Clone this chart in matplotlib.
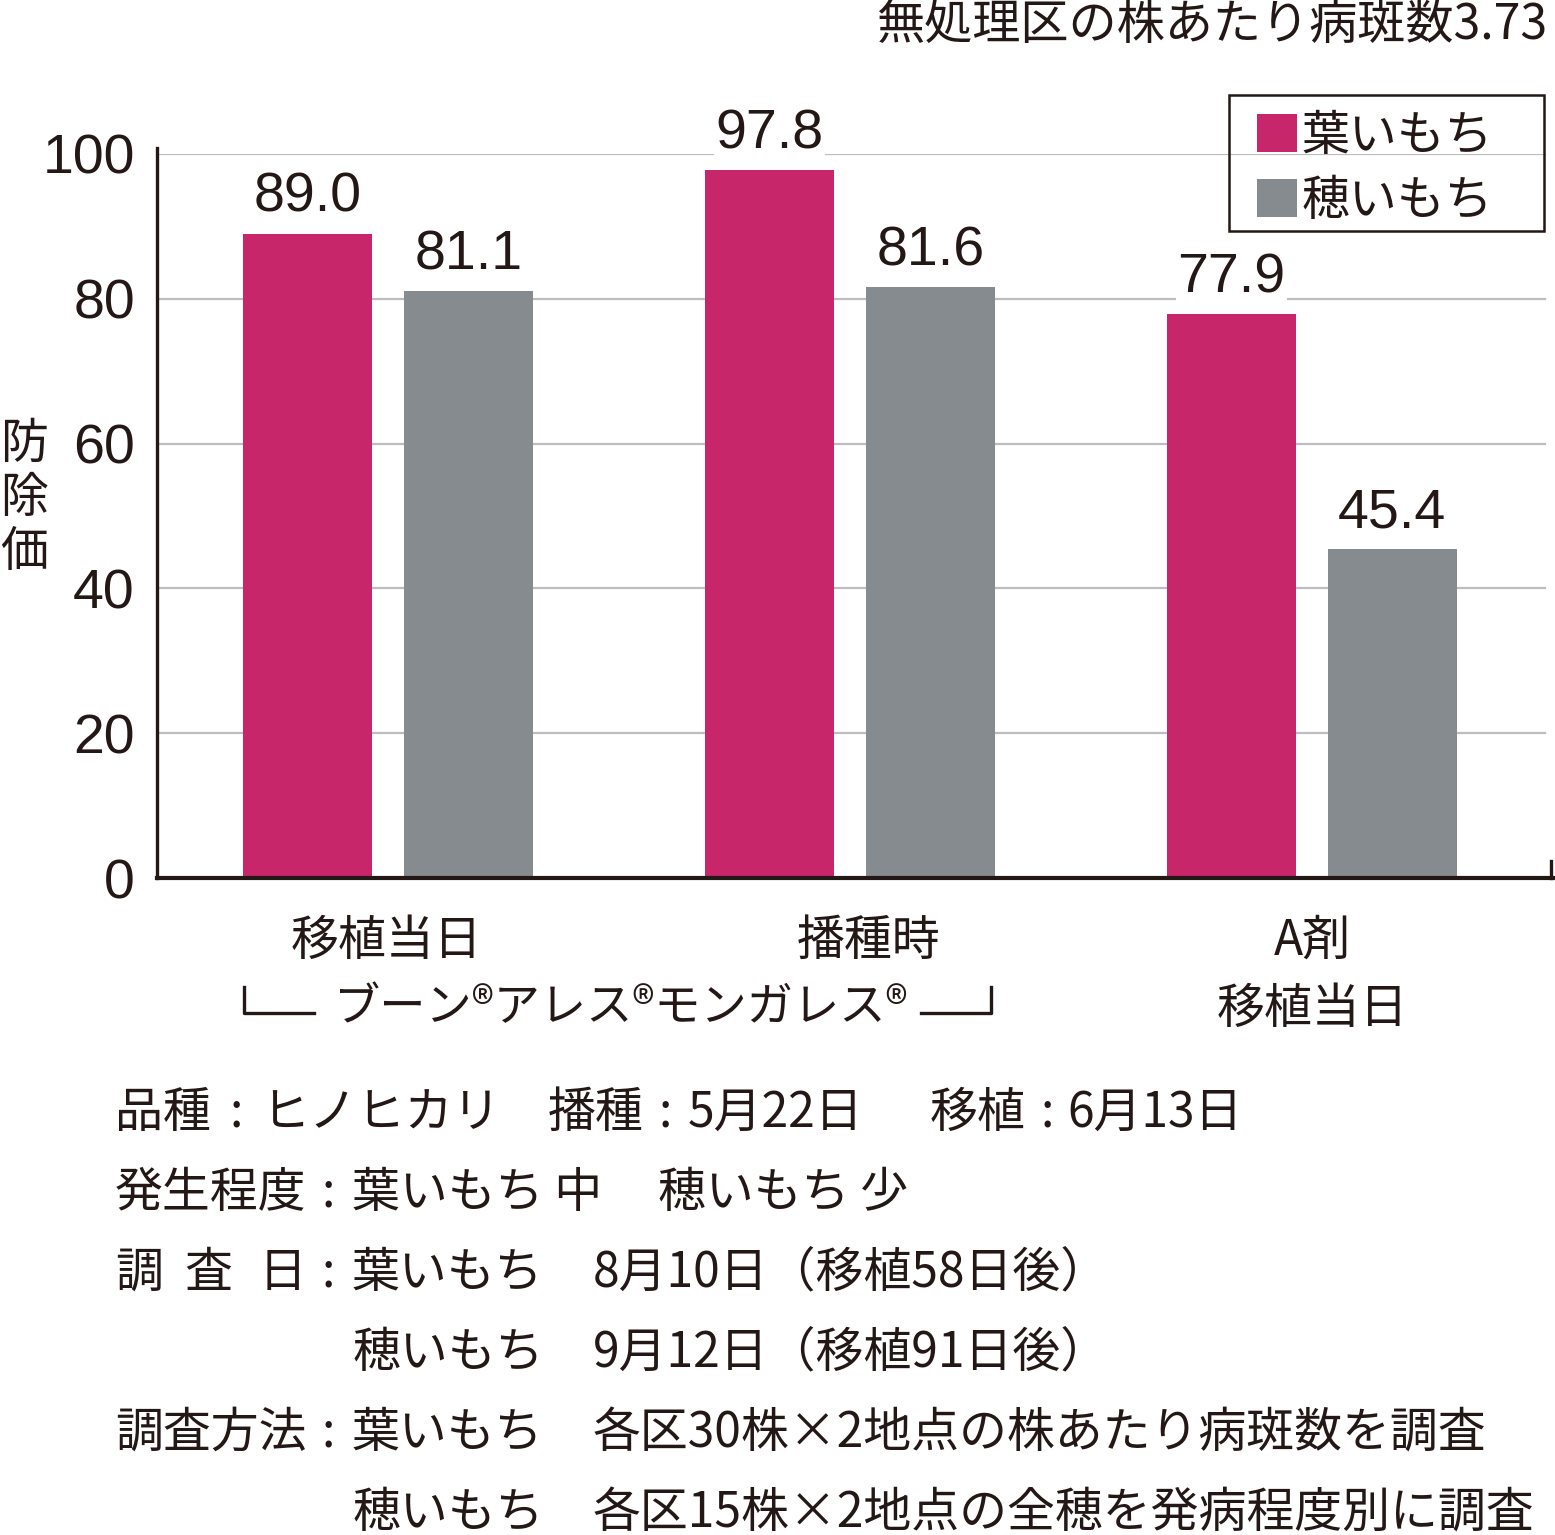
import matplotlib
matplotlib.use("Agg")
import matplotlib.pyplot as plt
from matplotlib.patches import Patch, Rectangle
from matplotlib.lines import Line2D
import numpy as np

W, H = 1555, 1535
CJK = ['Noto Sans CJK JP', 'DejaVu Sans']
NUM = ['Liberation Sans', 'Noto Sans CJK JP', 'DejaVu Sans']
plt.rcParams['font.family'] = CJK

categories = ["移植当日", "播種時", "A剤\n移植当日"]
series_names = ["葉いもち", "穂いもち"]
leaf_blast = [89.0, 97.8, 77.9]
panicle_blast = [81.1, 81.6, 45.4]
yticks = [0, 20, 40, 60, 80, 100]
title_note = "無処理区の株あたり病斑数3.73"
product_label = "ブーン®アレス®モンガレス®"

PINK = "#C8266A"
GRAY = "#868B8F"
DARK = "#231815"
GRID = "#BDBDBD"
FS = 34.5

fig = plt.figure(figsize=(W / 100, H / 100), dpi=100)

def fx(px):
    return px / W

def fy(py):
    return 1 - py / H

ax_left, ax_right, ax_top, ax_bot = 157, 1553, 154, 878
ax = fig.add_axes([fx(ax_left), fy(ax_bot), (ax_right - ax_left) / W, (ax_bot - ax_top) / H])

x = np.arange(len(categories))
bw = 0.279
off = 0.174
ax.set_xlim(-0.5, 2.522)
ax.set_ylim(0, 100)

# grid lines
for t in yticks[1:]:
    ax.axhline(t, xmin=0, xmax=(1545 - ax_left) / (ax_right - ax_left), color=GRID, lw=1.6, zorder=0)

b1 = ax.bar(x - off, leaf_blast, bw, color=PINK, zorder=2)
b2 = ax.bar(x + off, panicle_blast, bw, color=GRAY, zorder=2)

for bars, vals in ((b1, leaf_blast), (b2, panicle_blast)):
    for rect, v in zip(bars, vals):
        ax.annotate(f"{v:.1f}", (rect.get_x() + rect.get_width() / 2, v),
                    xytext=(0, 7), textcoords="offset points",
                    ha="center", va="bottom", fontsize=40, family=NUM, color=DARK,
                    bbox=dict(boxstyle="square,pad=0.02", fc="white", ec="none"),
                    zorder=3, clip_on=False)

for s in ("top", "right"):
    ax.spines[s].set_visible(False)
ax.spines["left"].set_color(DARK)
ax.spines["left"].set_linewidth(2.4)
ax.spines["left"].set_bounds(0, 100.8)
ax.spines["bottom"].set_color(DARK)
ax.spines["bottom"].set_linewidth(3.0)
ax.set_yticks(yticks)
ax.set_yticklabels([str(t) for t in yticks], fontsize=40, family=NUM, color=DARK)
ax.tick_params(axis="y", length=0, pad=16)
ax.set_xticks([])
# right-end tick on x axis
ax.plot([0.9985, 0.9985], [0, 17 / (ax_bot - ax_top)], transform=ax.transAxes,
        color=DARK, lw=2.4, clip_on=False)

# y label
fig.text(fx(24), fy(498), "防\n除\n価", ha="center", va="center", fontsize=FS,
         color=DARK, linespacing=1.12)

# title
fig.text(fx(1548), fy(25), title_note, ha="right", va="center", fontsize=34.7, color=DARK)

# category labels
fig.text(fx(386), fy(941), categories[0], ha="center", va="center", fontsize=FS, color=DARK)
fig.text(fx(868), fy(941), categories[1], ha="center", va="center", fontsize=FS, color=DARK)
fig.text(fx(1312), fy(975), categories[2], ha="center", va="center", fontsize=FS, color=DARK,
         linespacing=1.5)

# product bracket
fig.text(fx(621), fy(1008), product_label, ha="center", va="center", fontsize=33.3, color=DARK)
fig.add_artist(Line2D([fx(244), fx(244), fx(314)], [fy(987), fy(1013), fy(1013)], color=DARK, lw=2.4))
fig.add_artist(Line2D([fx(921), fx(991), fx(991)], [fy(1013), fy(1013), fy(987)], color=DARK, lw=2.4))

# legend
handles = [Patch(facecolor=PINK, edgecolor="none", label=series_names[0]),
           Patch(facecolor=GRAY, edgecolor="none", label=series_names[1])]
leg = fig.legend(handles=handles, loc="upper left", bbox_to_anchor=(fx(1257), fy(111)),
                 fontsize=FS, frameon=False, handlelength=0.84,
                 handleheight=0.84, handletextpad=0.08, borderpad=0, labelspacing=0.33,
                 borderaxespad=0)
for t in leg.get_texts():
    t.set_color(DARK)
fig.add_artist(Rectangle((fx(1229), fy(231)), fx(1544) - fx(1229), fy(95) - fy(231),
                         transform=fig.transFigure, fill=False, ec=DARK, lw=1.8))

# notes
notes_rows = [
    (1113, [(115, "品種"), (261, "ヒノヒカリ"), (548, "播種"), (688, "5月22日"),
            (930, "移植"), (1067, "6月13日")], [236, 665, 1047]),
    (1193, [(115, "発生程度"), (352, "葉いもち 中"), (658, "穂いもち 少")], [328]),
    (1273, [(115, "調"), (184, "査"), (259, "日"), (352, "葉いもち"),
            (593, "8月10日（移植58日後）")], [328]),
    (1353, [(352, "穂いもち"), (593, "9月12日（移植91日後）")], []),
    (1433, [(115, "調査方法"), (352, "葉いもち"), (593, "各区30株×2地点の株あたり病斑数を調査")], [328]),
    (1513, [(352, "穂いもち"), (593, "各区15株×2地点の全穂を発病程度別に調査")], []),
]
for py, parts, colons in notes_rows:
    for px, s in parts:
        fig.text(fx(px), fy(py), s, ha="left", va="center", fontsize=FS, color=DARK)
    for px in colons:
        fig.text(fx(px), fy(py), ":", ha="center", va="center", fontsize=FS, color=DARK)

fig.savefig("out.png", dpi=100, facecolor="white")
